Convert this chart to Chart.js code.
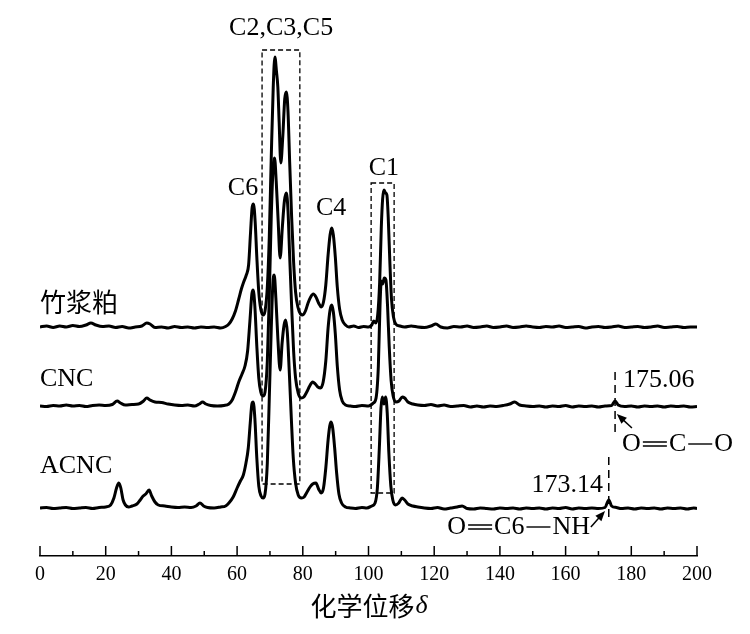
<!DOCTYPE html>
<html>
<head>
<meta charset="utf-8">
<script src="https://cdn.jsdelivr.net/npm/chart.js"></script>
<style>
  html, body { margin: 0; padding: 0; background: #fff; }
</style>
</head>
<body>
<canvas id="myChart" width="750" height="634"></canvas>
<script>
// chemical shift (ppm) , intensity above own baseline
var bambooPulp = [
  [0,0],[2,1],[4,-0.5],[6,1],[8,0],[10,1.5],[12,0.5],[14,2],[15.5,4],[17,2],[19,0.5],[21,1],[23,-0.5],
  [25,0.5],[27,-1],[29,0],[31,1],[32.5,4],[33.5,3],[35,-0.5],[37,0],[39,-1],[41,0.5],[43,-0.5],[45,0],
  [47,-1],[49,0],[51,-0.5],[53,0],[55,-1],[56.5,0.5],[57.5,3],[58.5,8],[59.5,16],[60.5,28],[61.3,38],
  [62,45],[62.8,52],[63.5,62],[64.1,95],[64.6,120],[65,123],[65.5,105],[66,70],[66.6,35],[67.2,18],
  [67.9,12],[68.5,16],[69.2,40],[69.8,90],[70.4,170],[71,240],[71.5,270],[72,255],[72.4,240],[72.8,205],
  [73.3,164],[73.9,190],[74.5,228],[75,235],[75.5,215],[76,165],[76.6,110],[77.2,65],[77.8,35],[78.5,20],
  [79.3,13],[80,12],[80.8,16],[81.6,24],[82.4,30],[83.2,33],[84,30],[84.8,24],[85.6,20],[86.3,25],
  [87,42],[87.7,72],[88.3,92],[88.8,99],[89.3,92],[89.9,70],[90.5,40],[91.2,18],[92,7],[93,2],[94,0],
  [95.5,1],[97,-0.5],[98.5,0.5],[100,0],[101,2],[101.6,6],[102.2,4],[102.8,12],[103.4,45],[103.9,100],
  [104.3,128],[104.7,137],[105.2,134],[105.6,132],[106,110],[106.5,65],[107,28],[107.6,10],[108.3,3],
  [109.5,1],[111,0],[113,1],[115,0],[117,-0.5],[119,1],[120.5,3],[122,0],[124,-1],[126,0.5],[128,0],
  [130,1],[132,-0.5],[134,0],[136,1],[138,-0.5],[140,0],[142,1],[144,-0.5],[146,0],[148,1],[150,0],
  [152,-0.5],[154,0.5],[156,0],[158,1],[160,-0.5],[162,0],[164,0.5],[166,-1],[168,0],[170,0.5],
  [172,-0.5],[174,0],[176,1],[178,-0.5],[180,0],[182,0.5],[184,-0.5],[186,0],[188,1],[190,-0.5],
  [192,0],[194,0.5],[196,-0.5],[198,0],[200,0]
];

var cnc = [
  [0,0],[2,-0.5],[4,0.5],[6,0],[8,1],[10,0],[12,0.5],[14,-0.5],[16,0.5],[18,1],[20,0.5],[22,1.5],
  [23.5,5],[24.5,3],[26,1],[28,1.5],[30,2],[31.5,5],[32.5,8],[33.5,6],[35,4],[37,3.5],[39,2],[41,1],
  [43,0.5],[45,1],[47,0],[48.5,2],[49.5,4],[50.5,2],[52,0.5],[54,0],[56,0.5],[57.5,2],[58.5,6],
  [59.5,14],[60.5,24],[61.5,32],[62.4,40],[63.2,55],[63.9,85],[64.5,112],[64.9,116],[65.4,100],[66,60],
  [66.6,28],[67.2,14],[67.9,10],[68.5,14],[69.2,45],[69.8,110],[70.4,190],[71,240],[71.4,248],
  [71.9,225],[72.5,185],[73.1,148],[73.8,180],[74.4,205],[75,213],[75.5,195],[76,150],[76.6,100],
  [77.2,55],[77.8,28],[78.6,13],[79.5,8],[80.3,9],[81.2,14],[82.1,20],[83,24],[83.8,22],[84.6,19],
  [85.4,18],[86.2,24],[87,45],[87.7,78],[88.3,96],[88.8,101],[89.3,94],[89.9,72],[90.5,40],[91.2,16],
  [92,5],[93,1],[94.5,0],[96,-0.5],[98,0.5],[100,0],[101.5,3],[102.3,8],[103,40],[103.5,100],
  [103.9,125],[104.3,122],[104.8,128],[105.3,126],[105.8,100],[106.3,60],[106.9,25],[107.5,10],
  [108.3,4],[109.3,5],[110.3,9],[111,8],[112,4],[113.5,2],[115,1],[117,0.5],[119,1.5],[121,0],[123,1],
  [125,-0.5],[127,0],[129,0.5],[131,-1],[133,0],[135,-1],[137,0],[139,-0.5],[141,0.5],[143,2],
  [144.5,4],[146,1],[148,0],[150,-0.5],[152,0],[154,-1],[156,0],[158,-0.5],[160,0.5],[162,-1],[164,0],
  [166,-0.5],[168,0],[170,-1],[172,0],[174,0.5],[175.06,5],[176,1],[178,-0.5],[180,0],[182,-1],[184,0],
  [186,-0.5],[188,0],[190,-1],[192,0],[194,-0.5],[196,0],[198,-1],[200,-0.5]
];

var acnc = [
  [0,0],[2,0.5],[4,-0.5],[6,0],[8,0.5],[10,-0.5],[12,0],[14,0.5],[16,-0.5],[18,0.5],[20,1],[21.5,3],
  [22.5,10],[23.3,20],[24,25],[24.6,20],[25.3,8],[26,3],[27,1],[28,2],[29.5,4],[30.5,8],[31.4,12],
  [32.2,14],[33.2,18],[34,12],[35,6],[36,3],[38,2],[40,1],[42,0.5],[44,1],[46,0.5],[47.5,2],[48.7,5],
  [49.8,2],[51,0.5],[53,0],[55,1],[56.5,2],[57.5,5],[58.8,11],[60,20],[61,27],[61.9,33],[62.7,45],
  [63.4,60],[64,85],[64.5,104],[64.9,106],[65.4,90],[66,50],[66.6,22],[67.3,12],[67.9,10],[68.5,14],
  [69.2,45],[69.8,110],[70.4,180],[70.9,225],[71.3,233],[71.8,210],[72.4,170],[73.1,138],[73.7,165],
  [74.3,183],[74.8,188],[75.3,175],[75.9,135],[76.5,90],[77.1,50],[77.8,25],[78.6,13],[79.6,10],
  [80.4,11],[81.3,16],[82.2,21],[83,24],[84,25],[84.8,19],[85.6,15],[86.3,20],[87,40],[87.7,68],
  [88.2,82],[88.6,86],[89.1,80],[89.7,60],[90.3,35],[91,14],[91.8,5],[93,1],[94.5,0],[96,-0.5],
  [98,0.5],[99.5,0],[101,2],[102,5],[102.7,20],[103.3,60],[103.8,100],[104.2,111],[104.7,104],
  [105.2,111],[105.7,95],[106.2,55],[106.8,22],[107.4,8],[108.2,3],[109.2,5],[110.2,10],[111,8],
  [112,4],[113.5,2],[115,1],[117,0],[119,-0.5],[121,0.5],[123,-1],[125,0],[127,1],[128.5,2],[130,-0.5],
  [132,-1],[134,0],[136,-0.5],[138,-1],[140,0],[142,-0.5],[144,0],[146,-1],[148,0],[150,-0.5],[152,0],
  [154,-1],[156,0],[158,-0.5],[160,0.5],[162,-1],[164,0],[166,-0.5],[168,0],[170,-0.5],[172,0.5],
  [173.14,8],[174,2],[175.5,0.5],[177,-0.5],[179,0],[181,-1],[183,0],[185,-0.5],[187,0],[189,-1],
  [191,0],[193,-0.5],[195,0],[197,-1],[199,0],[200,-0.5]
];

var xTicks = [0, 20, 40, 60, 80, 100, 120, 140, 160, 180, 200];
var seriesNames = ['竹浆粕', 'CNC', 'ACNC'];
var peakShifts = [175.06, 173.14];

// vertical stacking of the three spectra
var offsets = [229, 150, 48];

var serif = '"Liberation Serif", "Noto Sans CJK SC", serif';
var cjk = '"Noto Sans CJK SC", sans-serif';

function toPoints(arr, off) {
  return arr.map(function (p) { return { x: p[0], y: p[1] + off }; });
}

var notes = {
  id: 'notes',
  afterDatasetsDraw: function (chart) {
    var ctx = chart.ctx, xs = chart.scales.x, ys = chart.scales.y;
    function X(v) { return xs.getPixelForValue(v); }
    function Y(v) { return ys.getPixelForValue(v); }
    ctx.save();
    ctx.strokeStyle = '#000';
    ctx.fillStyle = '#000';

    // inward ticks
    ctx.lineWidth = 1.5;
    for (var t = 0; t <= 200; t += 10) {
      var len = t % 20 === 0 ? 10 : 5;
      ctx.beginPath();
      ctx.moveTo(X(t), Y(0));
      ctx.lineTo(X(t), Y(0) - len);
      ctx.stroke();
    }

    // dashed boxes
    ctx.setLineDash([5, 3]);
    ctx.lineWidth = 1.3;
    ctx.strokeRect(X(67.6), Y(506), X(79.1) - X(67.6), Y(72) - Y(506));
    ctx.strokeRect(X(100.8), Y(373), X(107.8) - X(100.8), Y(63) - Y(373));
    // dashed markers for small peaks
    ctx.lineWidth = 1.5;
    ctx.setLineDash([8, 5]);
    ctx.beginPath();
    ctx.moveTo(X(peakShifts[0]), Y(184)); ctx.lineTo(X(peakShifts[0]), Y(123));
    ctx.moveTo(X(peakShifts[1]), Y(99)); ctx.lineTo(X(peakShifts[1]), Y(34));
    ctx.stroke();
    ctx.setLineDash([]);

    function arrow(x1, y1, x2, y2) {
      var a = Math.atan2(y2 - y1, x2 - x1);
      ctx.lineWidth = 1.5;
      ctx.beginPath(); ctx.moveTo(x1, y1); ctx.lineTo(x2 - 6 * Math.cos(a), y2 - 6 * Math.sin(a)); ctx.stroke();
      ctx.beginPath();
      ctx.moveTo(x2, y2);
      ctx.lineTo(x2 - 10 * Math.cos(a) + 4 * Math.sin(a), y2 - 10 * Math.sin(a) - 4 * Math.cos(a));
      ctx.lineTo(x2 - 10 * Math.cos(a) - 4 * Math.sin(a), y2 - 10 * Math.sin(a) + 4 * Math.cos(a));
      ctx.closePath(); ctx.fill();
    }
    arrow(X(180.2), Y(128), X(175.6), Y(142));
    arrow(X(167.7), Y(29), X(172), Y(45));

    // text
    ctx.textBaseline = 'middle';
    ctx.font = '26px ' + serif;
    ctx.textAlign = 'center';
    ctx.fillText('C2,C3,C5', X(73.4), Y(528));
    ctx.fillText('C6', X(61.8), Y(368));
    ctx.fillText('C4', X(88.6), Y(348));
    ctx.fillText('C1', X(104.7), Y(388));
    ctx.textAlign = 'left';
    ctx.fillText(seriesNames[1], X(0), Y(177));
    ctx.fillText(seriesNames[2], X(0), Y(90));
    ctx.fillText(peakShifts[0].toFixed(2), X(177.5), Y(176));
    ctx.textAlign = 'right';
    ctx.fillText(peakShifts[1].toFixed(2), X(171.4), Y(71));
    ctx.textAlign = 'left';
    ctx.font = '26px ' + cjk;
    ctx.fillText(seriesNames[0], X(0), Y(254));

    // formulas with drawn bonds
    function formula(parts, x, y) {
      ctx.font = '26px ' + serif;
      ctx.textAlign = 'left';
      var cx = x;
      parts.forEach(function (p) {
        if (p === '=' || p === '-') {
          ctx.lineWidth = 1.4;
          ctx.beginPath();
          if (p === '=') {
            ctx.moveTo(cx + 2, y - 2); ctx.lineTo(cx + 26, y - 2);
            ctx.moveTo(cx + 2, y + 2); ctx.lineTo(cx + 26, y + 2);
          } else {
            ctx.moveTo(cx + 2, y); ctx.lineTo(cx + 26, y);
          }
          ctx.stroke();
          cx += 28;
        } else {
          ctx.fillText(p, cx, y);
          cx += ctx.measureText(p).width;
        }
      });
    }
    formula(['O', '=', 'C', '-', 'O'], X(177.2), Y(112));
    formula(['O', '=', 'C6', '-', 'NH'], X(124), Y(29));

    // axis title
    ctx.textBaseline = 'middle';
    ctx.font = '26px ' + cjk;
    var t1 = '化学位移';
    var w1 = ctx.measureText(t1).width;
    ctx.font = 'italic 26px ' + serif;
    var w2 = ctx.measureText('δ').width;
    var sx = (X(0) + X(200)) / 2 - (w1 + w2) / 2;
    ctx.font = '26px ' + cjk;
    ctx.fillText(t1, sx, 606);
    ctx.font = 'italic 26px ' + serif;
    ctx.fillText('δ', sx + w1 + 1, 606);
    ctx.restore();
  }
};

var ctx = document.getElementById('myChart').getContext('2d');
var chart = new Chart(ctx, {
  type: 'line',
  data: {
    datasets: [bambooPulp, cnc, acnc].map(function (arr, i) {
      return {
        label: seriesNames[i],
        data: toPoints(arr, offsets[i]),
        borderColor: '#000',
        borderWidth: 3,
        pointRadius: 0,
        fill: false,
        cubicInterpolationMode: 'monotone'
      };
    })
  },
  options: {
    responsive: false,
    animation: false,
    layout: { padding: { left: 40, right: 53, top: 0, bottom: 0 } },
    plugins: { legend: { display: false }, tooltip: { enabled: false } },
    scales: {
      x: {
        type: 'linear',
        min: 0,
        max: 200,
        afterFit: function (s) { s.height = 78; },
        afterBuildTicks: function (s) { s.ticks = xTicks.map(function (v) { return { value: v }; }); },
        grid: { display: false, drawTicks: false },
        border: { display: true, color: '#000', width: 1.5 },
        ticks: { color: '#000', padding: 7, maxRotation: 0, font: { family: serif, size: 20 } }
      },
      y: {
        display: false,
        min: 0,
        max: 556
      }
    }
  },
  plugins: [notes]
});
</script>
</body>
</html>
